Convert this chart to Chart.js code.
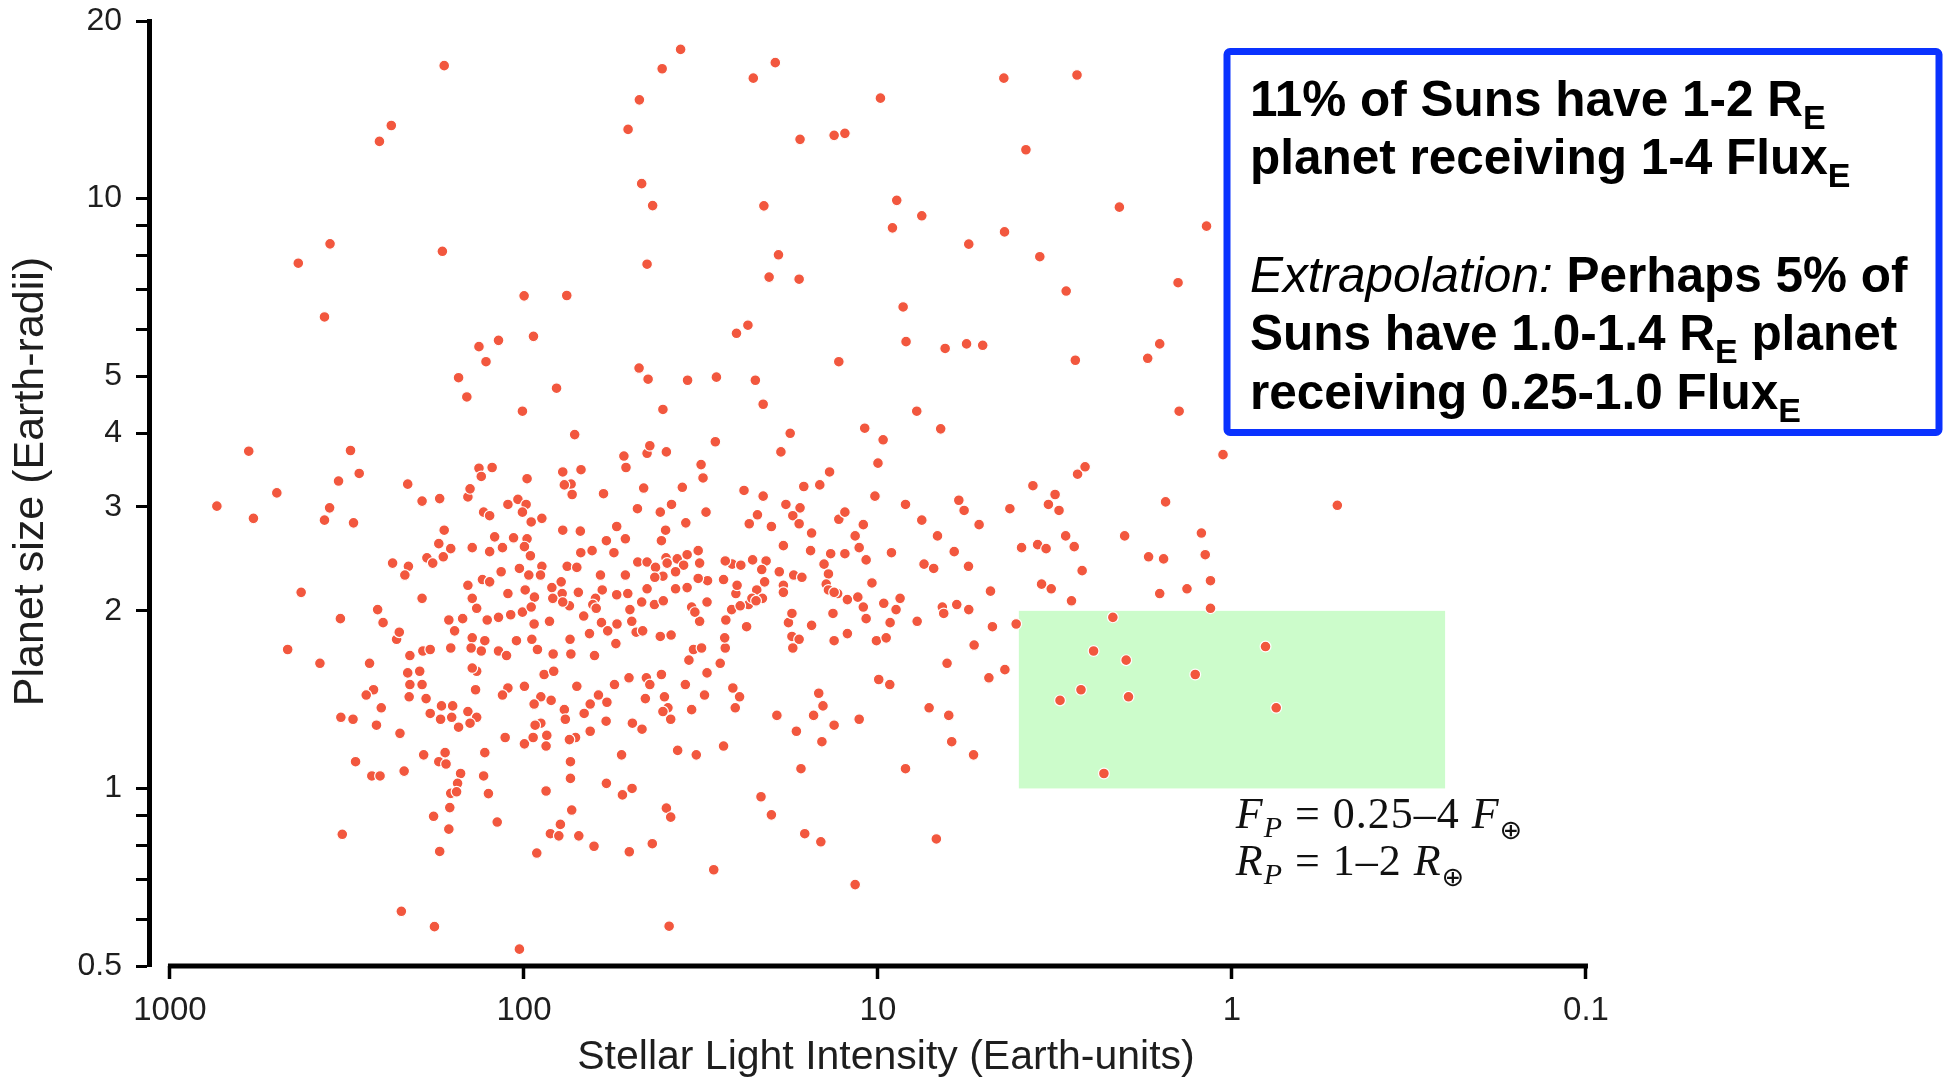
<!DOCTYPE html>
<html>
<head>
<meta charset="utf-8">
<title>Planet size vs stellar light intensity</title>
<script src="https://cdn.jsdelivr.net/npm/chart.js@4.4.1/dist/chart.umd.min.js"></script>
<style>
  html, body { margin: 0; padding: 0; background: #ffffff; }
  #wrap { width: 1948px; height: 1078px; }
  canvas { display: block; }
</style>
</head>
<body>
<div id="wrap"><canvas id="chart" width="1948" height="1078"></canvas></div>
<script>
// Planet candidates as [stellar light intensity (Earth units), planet radius (Earth radii)]

// Large planets, above about 4.7 Earth radii
const upperCandidates = [
  [168,16.8],[237,13.3],[256,12.5],[353,8.38],[434,7.77],[170,8.14],[366,6.30],[99.9,6.84],[134,5.61],[118,5.75],
  [128,5.29],[153,4.97],
  [36.1,17.9],[40.7,16.6],[47.2,14.7],[50.8,13.1],[22.5,16.0],[19.5,17.0],[9.84,14.8],[16.6,12.6],[13.3,12.8],[12.4,12.9],
  [46.5,10.6],[43.3,9.73],[21.0,9.72],[44.9,7.74],[19.1,8.03],[20.3,7.36],[16.7,7.30],[75.7,6.85],[94.0,5.84],[25.1,5.91],
  [23.3,6.10],[12.9,5.29],[47.3,5.16],[44.6,4.94],[34.5,4.92],[28.6,4.98],[22.2,4.92],[80.9,4.77],
  [4.41,16.0],[2.74,16.2],[3.82,12.1],[8.85,9.93],[7.52,9.35],[9.10,8.92],[5.54,8.37],[4.39,8.78],[3.49,7.97],[2.08,9.67],
  [1.18,8.98],[8.49,6.55],[1.42,7.20],[0.965,7.35],[2.94,6.97],[8.33,5.72],[6.46,5.57],[5.62,5.67],[5.06,5.64],[2.77,5.32],
  [1.73,5.36],[1.60,5.67],[0.504,3.02]
];

// Highly irradiated planets, roughly 95 to 750 Earth units
const hotCandidates = [
  [145,4.61],[101,4.36],[599,3.73],[309,3.74],[499,3.17],[737,3.01],[581,2.87],[334,3.32],[292,3.42],[354,2.99],
  [366,2.85],[303,2.82],[213,3.28],[194,3.07],[173,3.10],[134,3.49],[123,3.50],[132,3.38],[98.0,3.35],[144,3.12],
  [142,3.22],[111,3.03],[104,3.09],[98.6,3.03],[101,2.94],[130,2.94],[125,2.90],[168,2.74],[174,2.60],[161,2.55],
  [169,2.47],[188,2.46],[181,2.41],[140,2.56],[125,2.52],[115,2.56],[121,2.67],[107,2.66],[98.0,2.65],[99.7,2.57],
  [116,2.33],[103,2.36],[96.9,2.30],[131,2.26],[125,2.24],[144,2.21],[111,2.14],[99.2,2.17],[235,2.41],[212,2.38],
  [217,2.30],[194,2.10],[426,2.15],[140,2.10],[136,2.02],[127,1.93],[118,1.95],[109,1.97],[101,1.99],[163,1.93],
  [149,1.94],[157,1.85],[140,1.80],[129,1.78],[132,1.71],[141,1.73],[161,1.73],[118,1.71],[112,1.68],[105,1.78],
  [259,2.01],[250,1.91],[229,1.79],[225,1.84],[330,1.94],[465,1.72],[377,1.63],[273,1.63],[210,1.68],[193,1.71],
  [184,1.72],[213,1.57],[197,1.58],[210,1.50],[194,1.50],[211,1.43],[189,1.42],[136,1.58],[140,1.60],[137,1.47],
  [111,1.48],[115,1.44],[99.7,1.49],[266,1.47],[279,1.44],[253,1.37],[329,1.32],[304,1.31],[261,1.28],[224,1.24],
  [184,1.34],[171,1.38],[159,1.38],[172,1.31],[160,1.32],[153,1.27],[144,1.35],[136,1.32],[142,1.29],[113,1.22],
  [99.7,1.19],[299,1.11],[269,1.05],[255,1.05],[218,1.07],[192,1.14],[167,1.15],[174,1.11],[166,1.10],[151,1.06],
  [154,1.02],[161,0.981],[155,0.987],[129,1.15],[130,1.05],[126,0.980],[162,0.928],[180,0.897],[163,0.853],[173,0.782],
  [119,0.877],[326,0.836],[222,0.619],[179,0.583],[103,0.534]
];

// Warm planets, roughly 9.5 to 95 Earth units
const warmCandidates = [
  [40.5,4.39],[21.1,4.48],[71.9,3.98],[28.8,3.87],[52.2,3.66],[44.9,3.70],[44.1,3.81],[39.6,3.72],[51.5,3.50],[77.7,3.44],
  [69.0,3.47],[73.6,3.28],[73.1,3.15],[76.9,3.27],[59.6,3.16],[45.9,3.23],[35.7,3.24],[31.6,3.54],[31.2,3.36],[17.7,4.00],
  [18.8,3.72],[10.9,4.08],[9.67,3.90],[10.0,3.56],[13.7,3.44],[14.6,3.27],[16.2,3.25],[23.9,3.20],[21.1,3.13],[10.2,3.13],
  [95.4,2.83],[89.0,2.87],[47.8,2.98],[41.2,2.94],[38.3,3.03],[30.6,2.94],[34.9,2.82],[23.1,2.81],[21.9,2.91],[20.0,2.78],
  [18.2,3.03],[16.6,2.99],[17.4,2.90],[16.7,2.81],[15.4,2.71],[12.9,2.86],[12.4,2.94],[11.0,2.80],[11.6,2.68],[77.7,2.74],
  [69.3,2.73],[54.7,2.78],[51.7,2.65],[95.9,2.48],[69.1,2.51],[64.2,2.53],[58.5,2.63],[55.7,2.51],[40.9,2.63],[39.8,2.74],
  [18.5,2.58],[15.5,2.53],[11.3,2.56],[10.8,2.44],[13.6,2.50],[12.4,2.50],[14.2,2.40],[47.7,2.42],[44.9,2.42],[39.7,2.46],
  [36.9,2.45],[34.6,2.49],[32.2,2.53],[35.4,2.39],[37.3,2.33],[42.5,2.37],[40.5,2.29],[39.4,2.41],[31.9,2.41],[25.8,2.40],
  [27.0,2.43],[24.4,2.39],[22.6,2.44],[20.7,2.43],[21.3,2.35],[19.0,2.33],[17.3,2.30],[16.4,2.28],[13.8,2.31],[14.0,2.22],
  [13.8,2.17],[13.0,2.14],[10.4,2.23],[89.0,2.38],[89.8,2.30],[75.5,2.38],[70.9,2.37],[78.5,2.24],[83.4,2.19],[60.8,2.30],
  [51.7,2.30],[60.1,2.17],[62.8,2.10],[54.7,2.13],[50.9,2.14],[44.9,2.18],[42.7,2.28],[37.3,2.18],[34.6,2.19],[30.3,2.25],
  [32.2,2.27],[27.3,2.26],[25.2,2.14],[25.0,2.21],[23.2,2.05],[22.0,2.17],[20.9,2.24],[21.2,2.10],[22.7,2.10],[18.5,2.21],
  [18.5,2.15],[13.3,2.15],[12.2,2.09],[11.4,2.11],[11.0,2.03],[9.63,2.06],[93.4,2.11],[78.0,2.14],[82.9,2.10],[74.4,2.04],
  [77.7,2.07],[70.2,2.15],[63.9,2.05],[95.4,2.03],[93.6,1.90],[84.7,1.92],[67.8,1.96],[65.3,1.83],[62.5,2.02],[60.4,1.91],
  [58.0,1.85],[54.6,1.90],[49.6,1.92],[50.2,2.01],[46.5,2.07],[42.8,2.05],[40.4,2.08],[48.2,1.84],[46.2,1.85],[33.6,2.03],
  [31.9,1.92],[32.9,1.99],[30.4,2.07],[26.9,1.93],[25.9,2.01],[24.5,2.04],[23.5,1.88],[22.1,2.08],[17.9,1.91],[15.4,1.89],
  [13.4,1.98],[10.8,1.94],[17.5,1.98],[17.5,1.81],[16.7,1.79],[17.4,1.73],[13.3,1.78],[12.2,1.83],[10.1,1.78],[9.48,1.80],
  [95.0,1.79],[91.6,1.72],[82.7,1.69],[74.1,1.79],[73.7,1.69],[63.2,1.68],[55.0,1.76],[41.2,1.81],[38.4,1.82],[34.2,1.65],
  [33.2,1.72],[31.5,1.73],[27.0,1.73],[27.1,1.80],[27.9,1.63],[30.4,1.57],[87.7,1.56],[82.4,1.58],[70.9,1.49],[89.6,1.43],
  [93.6,1.39],[83.8,1.41],[76.9,1.36],[76.4,1.31],[89.6,1.29],[93.0,1.28],[65.0,1.39],[61.6,1.44],[58.3,1.40],[67.6,1.34],
  [55.5,1.50],[50.5,1.54],[45.1,1.54],[44.1,1.50],[40.9,1.56],[45.4,1.42],[40.1,1.43],[39.2,1.37],[38.5,1.31],[40.5,1.35],
  [35.0,1.50],[33.6,1.36],[30.9,1.44],[58.6,1.30],[49.4,1.29],[46.4,1.26],[25.7,1.48],[24.6,1.43],[25.3,1.37],[19.3,1.33],
  [14.7,1.45],[14.3,1.38],[15.2,1.33],[13.3,1.28],[11.3,1.31],[17.0,1.25],[14.4,1.20],[9.95,1.53],[94.2,1.22],[86.2,1.23],
  [86.6,1.18],[71.5,1.22],[74.4,1.21],[65.0,1.25],[73.9,1.11],[73.9,1.04],[53.0,1.14],[36.8,1.16],[32.6,1.14],[27.3,1.18],
  [58.5,1.02],[52.7,0.975],[49.5,1.00],[86.6,0.990],[73.3,0.919],[78.9,0.869],[84.2,0.838],[79.7,0.831],[70.0,0.831],[63.4,0.798],
  [92.0,0.777],[50.4,0.781],[43.4,0.806],[39.6,0.926],[38.5,0.894],[29.1,0.728],[21.4,0.968],[20.0,0.902],[16.1,0.838],[14.5,0.812],
  [16.5,1.08],[11.6,0.687],[38.9,0.584]
];

// Temperate planets, below about 9.5 Earth units
const temperateCandidates = [
  [7.77,4.36],[6.65,4.07],[8.36,3.03],[7.52,2.85],[9.16,2.51],[6.79,2.68],[5.91,3.08],[5.71,2.96],[5.18,2.80],[4.24,2.98],
  [3.65,3.26],[3.16,3.15],[3.30,3.03],[3.08,2.96],[3.93,2.56],[3.54,2.59],[3.35,2.55],[2.95,2.68],[2.79,2.57],[2.73,3.41],
  [2.60,3.51],[2.65,2.34],[3.45,2.22],[3.24,2.18],[2.84,2.08],[6.09,2.52],[7.41,2.40],[6.96,2.36],[5.55,2.38],[4.81,2.16],
  [8.66,2.10],[8.89,2.01],[9.24,1.91],[7.75,1.92],[6.58,2.03],[6.52,1.98],[5.99,2.05],[5.54,2.01],[4.75,1.88],[4.07,1.90],
  [5.35,1.75],[6.38,1.63],[4.38,1.59],[4.86,1.54],[9.26,1.50],[7.17,1.37],[6.31,1.33],[6.19,1.20],[5.37,1.14],[8.36,1.08],
  [6.84,0.821],[2.01,2.68],[1.54,3.06],[1.22,2.71],[1.19,2.49],[1.15,2.25],[1.15,2.02],[1.34,2.18],[1.60,2.14],[1.72,2.47],
  [1.56,2.45],[1.41,4.36],[1.06,3.68],[2.17,1.95],[2.46,1.71],[1.99,1.65],[1.27,1.56],[0.804,1.74],[2.67,1.47],[3.06,1.41],
  [1.96,1.43],[0.750,1.37],[2.30,1.06]
];

// Axis ticks
const xTickValues = [1000, 100, 10, 1, 0.1];
const xTickLabels = ['1000', '100', '10', '1', '0.1'];
const yTickValues = [0.5, 0.6, 0.7, 0.8, 0.9, 1, 2, 3, 4, 5, 6, 7, 8, 9, 10, 20];
const yTickLabels = ['0.5', '', '', '', '', '1', '2', '3', '4', '5', '', '', '', '', '10', '20'];

// Axis extents
const xRange = [0.0786, 1146];   // reversed: brightest on the left
const yRange = [0.5, 20];

// Shaded region: flux 0.25-4, radius 1-2
const zoneFlux = [4, 0.25];
const zoneRadius = [1, 2];

// Axis titles
const xTitle = 'Stellar Light Intensity (Earth-units)';
const yTitle = 'Planet size (Earth-radii)';

// Annotation text: runs of [text, style]
const noteLines = [
  [['11% of Suns have 1-2 R', 'b'], ['E', 's']],
  [['planet receiving 1-4 Flux', 'b'], ['E', 's']],
  [],
  [['Extrapolation:', 'i'], [' Perhaps 5% of', 'b']],
  [['Suns have 1.0-1.4 R', 'b'], ['E', 's'], [' planet', 'b']],
  [['receiving 0.25-1.0 Flux', 'b'], ['E', 's']]
];
const zoneLabelLines = [
  [['F', 'i'], ['P', 'si'], [' = 0.25\u20134 ', 'r'], ['F', 'i'], ['\u2295', 'so']],
  [['R', 'i'], ['P', 'si'], [' = 1\u20132 ', 'r'], ['R', 'i'], ['\u2295', 'so']]
];

const allCandidates = upperCandidates.concat(hotCandidates, warmCandidates, temperateCandidates);
const points = allCandidates.map(([f, r]) => ({ x: f, y: r }));

const SANS = '"Liberation Sans", Arial, Helvetica, sans-serif';
const SERIF = '"Liberation Serif", "DejaVu Serif", serif';

const noteFonts = {
  b: { font: '700 49.5px ' + SANS, dy: 0 },
  i: { font: 'italic 400 49.5px ' + SANS, dy: 0 },
  s: { font: '700 34px ' + SANS, dy: 13 }
};
const labelFonts = {
  i: { font: 'italic 400 44px ' + SERIF, dy: 0 },
  r: { font: '400 44px ' + SERIF, dy: 0 },
  si: { font: 'italic 400 30px ' + SERIF, dy: 9 },
  so: { font: '400 27px "DejaVu Sans", ' + SERIF, dy: 11 }
};

function drawRuns(ctx, runs, fonts, x, y) {
  let cx = x;
  runs.forEach(([text, style]) => {
    const f = fonts[style];
    ctx.font = f.font;
    ctx.fillText(text, cx, y + f.dy);
    cx += ctx.measureText(text).width;
  });
}

const decorations = {
  id: 'decorations',
  beforeDatasetsDraw(chart) {
    const { ctx, scales: { x, y } } = chart;
    const left = x.getPixelForValue(zoneFlux[0]);
    const right = x.getPixelForValue(zoneFlux[1]);
    const top = y.getPixelForValue(zoneRadius[1]);
    const bottom = y.getPixelForValue(zoneRadius[0]);
    ctx.save();
    ctx.fillStyle = '#ccfccb';
    ctx.fillRect(left, top, right - left, bottom - top);
    ctx.restore();
  },
  afterDatasetsDraw(chart) {
    const { ctx, chartArea, scales: { x, y } } = chart;
    ctx.save();

    // x axis line spanning the labelled decades only
    const xa = x.getPixelForValue(xTickValues[0]);
    const xb = x.getPixelForValue(xTickValues[xTickValues.length - 1]);
    ctx.strokeStyle = '#000';
    ctx.lineWidth = 5;
    ctx.lineCap = 'butt';
    ctx.beginPath();
    ctx.moveTo(xa - 2, chartArea.bottom);
    ctx.lineTo(xb + 2, chartArea.bottom);
    ctx.stroke();

    // y axis title
    ctx.save();
    ctx.translate(31, (chartArea.top + chartArea.bottom) / 2 - 12);
    ctx.rotate(-Math.PI / 2);
    ctx.font = '400 43px ' + SANS;
    ctx.fillStyle = '#1e1e1e';
    ctx.textAlign = 'center';
    ctx.textBaseline = 'middle';
    ctx.fillText(yTitle, 0, 0);
    ctx.restore();

    // formula under the shaded box
    const zx = x.getPixelForValue(zoneFlux[0]) + 217;
    const zy = y.getPixelForValue(zoneRadius[0]) + 39.5;
    ctx.fillStyle = '#111';
    ctx.textBaseline = 'alphabetic';
    ctx.textAlign = 'left';
    ctx.letterSpacing = '1px';
    zoneLabelLines.forEach((runs, i) => drawRuns(ctx, runs, labelFonts, zx, zy + i * 47));
    ctx.letterSpacing = '0px';

    // note box
    const bx = 1227, by = 51.5, bw = 712, bh = 381;
    ctx.fillStyle = '#ffffff';
    ctx.beginPath();
    ctx.roundRect(bx, by, bw, bh, 3);
    ctx.fill();
    ctx.strokeStyle = '#0a32ff';
    ctx.lineWidth = 7;
    ctx.stroke();

    ctx.fillStyle = '#000';
    noteLines.forEach((runs, i) => drawRuns(ctx, runs, noteFonts, 1250, 115.5 + i * 58.7));
    ctx.restore();
  }
};

new Chart(document.getElementById('chart'), {
  type: 'scatter',
  data: {
    datasets: [{
      data: points,
      backgroundColor: '#f2573e',
      borderColor: '#ffffff',
      borderWidth: 1.2,
      pointRadius: 5.4,
      pointHoverRadius: 5.4
    }]
  },
  options: {
    responsive: false,
    animation: false,
    devicePixelRatio: 1,
    layout: { padding: { top: 21, right: 325, bottom: 0, left: 0 } },
    plugins: { legend: { display: false }, tooltip: { enabled: false } },
    scales: {
      x: {
        type: 'logarithmic',
        reverse: true,
        min: xRange[0],
        max: xRange[1],
        afterBuildTicks(scale) { scale.ticks = xTickValues.map(v => ({ value: v })); },
        afterFit(scale) { scale.height = 112; },
        grid: { display: true, drawOnChartArea: false, drawTicks: true, tickLength: 13, tickWidth: 3.5, tickColor: '#000', color: '#000' },
        border: { display: false },
        ticks: {
          autoSkip: false, maxRotation: 0, minRotation: 0, padding: 12,
          color: '#1e1e1e',
          font: { family: SANS, size: 33 },
          callback(value) { const i = xTickValues.indexOf(value); return i >= 0 ? xTickLabels[i] : ''; }
        },
        title: {
          display: true, text: xTitle, color: '#1e1e1e',
          font: { family: SANS, size: 41, lineHeight: 1 }, padding: { top: 0, bottom: 0 }
        }
      },
      y: {
        type: 'logarithmic',
        min: yRange[0],
        max: yRange[1],
        afterBuildTicks(scale) { scale.ticks = yTickValues.map(v => ({ value: v })); },
        afterFit(scale) { scale.width = 149; },
        grid: { display: true, drawOnChartArea: false, drawTicks: true, tickLength: 13, tickWidth: 3, tickColor: '#000', color: '#000' },
        border: { display: true, color: '#000', width: 5 },
        ticks: {
          autoSkip: false, padding: 14,
          color: '#1e1e1e',
          font: { family: SANS, size: 32, lineHeight: 0.4 },
          callback(value) { const i = yTickValues.indexOf(value); return i >= 0 ? yTickLabels[i] : ''; }
        },
        title: { display: false }
      }
    }
  },
  plugins: [decorations]
});
</script>
</body>
</html>
